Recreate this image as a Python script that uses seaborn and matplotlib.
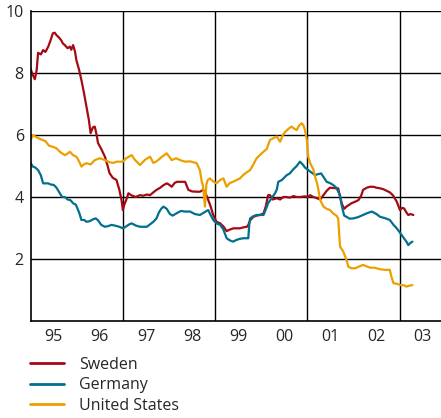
import numpy as np
import pandas as pd
import matplotlib
matplotlib.use("Agg")
import matplotlib.pyplot as plt
from matplotlib.ticker import FixedLocator, NullFormatter, FixedFormatter
import seaborn as sns

# ── data (decimal year, per cent) ──────────────────────────
sweden_t = [1995.00, 1995.04, 1995.09, 1995.13, 1995.16, 1995.22, 1995.27, 1995.32, 1995.38, 1995.43,
            1995.48, 1995.52, 1995.56, 1995.61, 1995.66, 1995.70, 1995.74, 1995.80, 1995.85, 1995.88,
            1995.92, 1995.96, 1995.99, 1996.05, 1996.10, 1996.15, 1996.21, 1996.26, 1996.30, 1996.35,
            1996.39, 1996.43, 1996.46, 1996.53, 1996.61, 1996.66, 1996.71, 1996.78, 1996.86, 1996.92,
            1996.97, 1997.00, 1997.03, 1997.07, 1997.12, 1997.19, 1997.28, 1997.37, 1997.44, 1997.52,
            1997.59, 1997.66, 1997.73, 1997.80, 1997.88, 1997.95, 1998.00, 1998.06, 1998.12, 1998.17,
            1998.28, 1998.35, 1998.42, 1998.50, 1998.60, 1998.67, 1998.74, 1998.80, 1998.85, 1998.89,
            1998.96, 1999.03, 1999.11, 1999.18, 1999.25, 1999.32, 1999.40, 1999.47, 1999.54, 1999.61,
            1999.69, 1999.72, 1999.76, 1999.83, 1999.90, 1999.97, 2000.05, 2000.10, 2000.15, 2000.19,
            2000.25, 2000.34, 2000.41, 2000.48, 2000.55, 2000.62, 2000.70, 2000.77, 2000.84, 2000.95,
            2001.02, 2001.06, 2001.13, 2001.21, 2001.28, 2001.35, 2001.42, 2001.49, 2001.56, 2001.63,
            2001.67, 2001.71, 2001.75, 2001.80, 2001.85, 2001.90, 2001.96, 2002.04, 2002.11, 2002.17,
            2002.21, 2002.29, 2002.36, 2002.43, 2002.50, 2002.58, 2002.65, 2002.72, 2002.79, 2002.86,
            2002.94, 2003.01, 2003.06, 2003.10, 2003.15, 2003.19, 2003.24, 2003.30]
sweden_v = [8.13, 7.95, 7.80, 8.10, 8.65, 8.60, 8.74, 8.68, 8.85, 9.05,
            9.28, 9.30, 9.22, 9.15, 9.06, 8.95, 8.90, 8.80, 8.85, 8.75,
            8.90, 8.70, 8.42, 8.10, 7.77, 7.40, 6.91, 6.50, 6.06, 6.25,
            6.27, 6.00, 5.74, 5.55, 5.30, 5.05, 4.77, 4.62, 4.55, 4.25,
            3.90, 3.58, 3.75, 3.90, 4.12, 4.05, 4.00, 4.06, 4.04, 4.08,
            4.06, 4.15, 4.23, 4.29, 4.38, 4.44, 4.40, 4.33, 4.45, 4.49,
            4.49, 4.49, 4.23, 4.18, 4.17, 4.17, 4.23, 4.10, 3.90, 3.75,
            3.42, 3.20, 3.15, 3.05, 2.90, 2.95, 2.99, 2.99, 2.99, 3.02,
            3.04, 3.10, 3.25, 3.36, 3.40, 3.42, 3.47, 3.70, 4.06, 4.06,
            3.92, 3.96, 3.92, 4.00, 4.00, 3.98, 4.03, 4.00, 4.00, 4.02,
            4.00, 4.06, 4.00, 3.96, 3.92, 4.06, 4.20, 4.30, 4.29, 4.28,
            4.28, 4.00, 3.78, 3.62, 3.69, 3.74, 3.80, 3.85, 3.90, 4.05,
            4.23, 4.30, 4.33, 4.33, 4.30, 4.28, 4.25, 4.20, 4.15, 4.05,
            3.85, 3.58, 3.65, 3.63, 3.50, 3.42, 3.45, 3.42]

germany_t = [1995.00, 1995.05, 1995.10, 1995.16, 1995.22, 1995.27, 1995.33, 1995.38, 1995.44, 1995.50,
             1995.56, 1995.62, 1995.68, 1995.74, 1995.80, 1995.86, 1995.92, 1995.98, 1996.05, 1996.10,
             1996.16, 1996.21, 1996.28, 1996.35, 1996.41, 1996.46, 1996.53, 1996.61, 1996.68, 1996.75,
             1996.82, 1996.92, 1997.00, 1997.07, 1997.14, 1997.19, 1997.28, 1997.37, 1997.44, 1997.52,
             1997.59, 1997.66, 1997.73, 1997.78, 1997.83, 1997.88, 1997.95, 1998.02, 1998.08, 1998.17,
             1998.26, 1998.35, 1998.46, 1998.56, 1998.67, 1998.76, 1998.85, 1998.91, 1998.96, 1999.03,
             1999.11, 1999.18, 1999.25, 1999.32, 1999.39, 1999.47, 1999.54, 1999.61, 1999.69, 1999.72,
             1999.74, 1999.76, 1999.83, 1999.90, 1999.97, 2000.05, 2000.10, 2000.15, 2000.22, 2000.30,
             2000.34, 2000.37, 2000.45, 2000.55, 2000.62, 2000.70, 2000.77, 2000.84, 2000.90, 2000.95,
             2001.02, 2001.10, 2001.17, 2001.24, 2001.30, 2001.35, 2001.42, 2001.49, 2001.56, 2001.63,
             2001.71, 2001.75, 2001.80, 2001.85, 2001.92, 2002.00, 2002.10, 2002.21, 2002.30, 2002.40,
             2002.50, 2002.58, 2002.68, 2002.79, 2002.87, 2002.94, 2003.02, 2003.08, 2003.15, 2003.19,
             2003.24, 2003.28]
germany_v = [5.09, 4.98, 4.95, 4.87, 4.70, 4.44, 4.44, 4.44, 4.40, 4.39,
             4.30, 4.15, 4.00, 4.00, 3.92, 3.90, 3.80, 3.75, 3.50, 3.26,
             3.26, 3.20, 3.22, 3.28, 3.31, 3.25, 3.10, 3.04, 3.06, 3.10,
             3.08, 3.04, 2.99, 3.05, 3.12, 3.15, 3.08, 3.04, 3.04, 3.04,
             3.12, 3.20, 3.31, 3.50, 3.62, 3.69, 3.62, 3.45, 3.40, 3.48,
             3.55, 3.53, 3.53, 3.45, 3.42, 3.50, 3.58, 3.40, 3.26, 3.15,
             3.10, 2.95, 2.67, 2.60, 2.56, 2.62, 2.65, 2.67, 2.67, 2.67,
             3.10, 3.31, 3.38, 3.42, 3.42, 3.42, 3.60, 3.80, 3.95, 4.12,
             4.25, 4.49, 4.55, 4.70, 4.76, 4.90, 5.00, 5.14, 5.05, 4.95,
             4.87, 4.78, 4.71, 4.74, 4.76, 4.65, 4.49, 4.45, 4.39, 4.30,
             4.05, 3.70, 3.40, 3.36, 3.30, 3.31, 3.35, 3.42, 3.48, 3.53,
             3.45, 3.36, 3.32, 3.26, 3.10, 2.99, 2.83, 2.70, 2.56, 2.45,
             2.52, 2.56]

us_t = [1995.00, 1995.05, 1995.10, 1995.16, 1995.24, 1995.32, 1995.40, 1995.48, 1995.56, 1995.64,
        1995.74, 1995.80, 1995.85, 1995.92, 1995.99, 1996.05, 1996.10, 1996.15, 1996.21, 1996.30,
        1996.39, 1996.50, 1996.61, 1996.71, 1996.80, 1996.86, 1996.95, 1997.00, 1997.07, 1997.19,
        1997.26, 1997.37, 1997.48, 1997.59, 1997.66, 1997.73, 1997.85, 1997.95, 1998.06, 1998.15,
        1998.26, 1998.35, 1998.46, 1998.60, 1998.67, 1998.71, 1998.74, 1998.78, 1998.81, 1998.84,
        1998.89, 1998.96, 1999.03, 1999.11, 1999.18, 1999.25, 1999.32, 1999.40, 1999.47, 1999.54,
        1999.61, 1999.69, 1999.76, 1999.83, 1999.90, 1999.97, 2000.05, 2000.12, 2000.19, 2000.27,
        2000.34, 2000.41, 2000.47, 2000.52, 2000.59, 2000.66, 2000.72, 2000.77, 2000.82, 2000.88,
        2000.92, 2000.95, 2000.99, 2001.02, 2001.06, 2001.10, 2001.13, 2001.17, 2001.21, 2001.24,
        2001.28, 2001.35, 2001.42, 2001.49, 2001.56, 2001.63, 2001.67, 2001.71, 2001.78, 2001.85,
        2001.89, 2001.96, 2002.04, 2002.11, 2002.21, 2002.29, 2002.36, 2002.45, 2002.58, 2002.68,
        2002.79, 2002.83, 2002.87, 2002.94, 2003.02, 2003.10, 2003.15, 2003.22, 2003.28]
us_v = [5.84, 6.00, 5.95, 5.90, 5.85, 5.80, 5.65, 5.62, 5.57, 5.45,
        5.35, 5.40, 5.46, 5.35, 5.30, 5.15, 4.98, 5.05, 5.09, 5.05,
        5.19, 5.25, 5.19, 5.12, 5.10, 5.14, 5.14, 5.14, 5.25, 5.35,
        5.20, 5.03, 5.20, 5.30, 5.10, 5.15, 5.30, 5.41, 5.19, 5.25,
        5.18, 5.14, 5.15, 5.09, 4.87, 4.50, 4.33, 3.69, 4.40, 4.55,
        4.60, 4.50, 4.44, 4.55, 4.60, 4.33, 4.45, 4.50, 4.55, 4.60,
        4.71, 4.80, 4.87, 5.05, 5.25, 5.35, 5.46, 5.55, 5.84, 5.90,
        5.95, 5.78, 6.00, 6.10, 6.20, 6.27, 6.20, 6.16, 6.30, 6.38,
        6.30, 6.15, 5.84, 5.30, 5.10, 4.98, 4.90, 4.65, 4.45, 4.23,
        3.90, 3.69, 3.62, 3.58, 3.47, 3.40, 3.31, 2.40, 2.24, 1.97,
        1.75, 1.70, 1.70, 1.75, 1.81, 1.76, 1.72, 1.72, 1.67, 1.65,
        1.65, 1.40, 1.22, 1.20, 1.16, 1.15, 1.11, 1.14, 1.16]

countries = ['Sweden', 'Germany', 'United States']
colors = ['#a50a14', '#00708c', '#eba000']
year_labels = ['95', '96', '97', '98', '99', '00', '01', '02', '03']
y_labels = ['2', '4', '6', '8', '10']

df = pd.concat([
    pd.DataFrame({'year': sweden_t, 'rate': sweden_v, 'country': 'Sweden'}),
    pd.DataFrame({'year': germany_t, 'rate': germany_v, 'country': 'Germany'}),
    pd.DataFrame({'year': us_t, 'rate': us_v, 'country': 'United States'}),
])

# ── figure ─────────────────────────────────────────────────
sns.set_style("white")
plt.rcParams['font.family'] = ['Open Sans', 'DejaVu Sans']

fig = plt.figure(figsize=(4.41, 4.18), dpi=100)
ax = fig.add_axes([30.7 / 441, 1 - 321 / 418, 1 - 30.7 / 441, 310 / 418])

sns.lineplot(data=df, x='year', y='rate', hue='country', hue_order=countries,
             palette=colors, linewidth=1.6, ax=ax, legend=False, sort=False)

ax.set_xlim(1995, 2003.9)
ax.set_ylim(0, 10)

# grid: horizontal every 2, vertical every second year
for yv in [2, 4, 6, 8, 10]:
    ax.axhline(yv, color='black', lw=1.0, zorder=0)
for xv in [1997, 1999, 2001, 2003]:
    ax.axvline(xv, color='black', lw=1.0, zorder=0)

ax.yaxis.set_major_locator(FixedLocator([2, 4, 6, 8, 10]))
ax.yaxis.set_major_formatter(FixedFormatter(y_labels))
ax.tick_params(axis='y', length=0, pad=5, labelsize=11.5)

ax.xaxis.set_major_locator(FixedLocator(list(range(1995, 2004))))
ax.xaxis.set_major_formatter(NullFormatter())
ax.xaxis.set_minor_locator(FixedLocator([y + 0.5 for y in range(1995, 2004)]))
ax.xaxis.set_minor_formatter(FixedFormatter(year_labels))
ax.tick_params(axis='x', which='major', direction='in', length=6, width=1, color='black')
ax.tick_params(axis='x', which='minor', length=0, pad=6, labelsize=11.5)

ax.set_xlabel('')
ax.set_ylabel('')
for side in ['top', 'right']:
    ax.spines[side].set_visible(False)
for side in ['left', 'bottom']:
    ax.spines[side].set_color('black')
    ax.spines[side].set_linewidth(1.2)

handles = [plt.Line2D([], [], color=c, lw=2) for c in colors]
fig.legend(handles, countries, loc='upper left',
           bbox_to_anchor=(30 / 441, 1 - 357 / 418), frameon=False,
           fontsize=11.5, handlelength=2.1, handletextpad=0.95,
           labelspacing=0.28, borderpad=0, borderaxespad=0)

fig.savefig('out.png', dpi=100)
